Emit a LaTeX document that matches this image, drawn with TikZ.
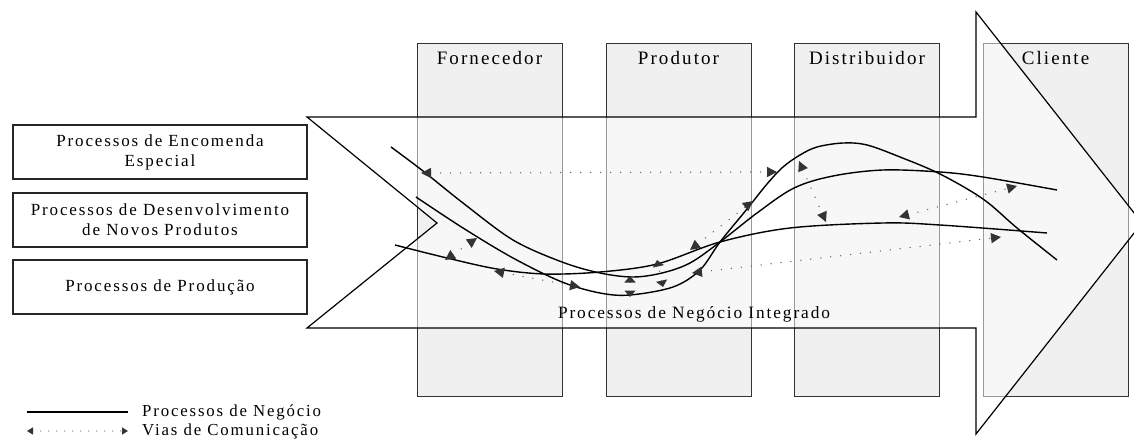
\documentclass[tikz,border=0pt]{standalone}
\usepackage{fontspec}
\setmainfont{Liberation Serif}
\newfontfamily\spc[LetterSpace=11]{Liberation Serif}
\usetikzlibrary{arrows.meta}
\begin{document}
\begin{tikzpicture}[x=1pt,y=-1pt,
  col/.style={draw=black!80,fill=black!6,line width=1.2pt,minimum width=145pt,minimum height=353pt,anchor=north west,inner sep=0pt},
  bigarrow/.style={draw=black,line width=1.2pt,fill=white,fill opacity=0.5},
  procbox/.style={draw=black!85,line width=1.3pt,minimum width=294pt,minimum height=54pt,align=center,inner sep=0pt,font=\spc\fontsize{17}{20}\selectfont},
  collab/.style={font=\spc\fontsize{19}{20}\selectfont,anchor=base,inner sep=0pt},
  txt/.style={font=\spc\fontsize{17.3}{20}\selectfont,inner sep=0pt},
  legtxt/.style={font=\spc\fontsize{16.8}{20}\selectfont,inner sep=0pt,anchor=base west},
  proc/.style={line width=1.4pt,draw=black},
  comm/.style={draw=black!60,line width=1.5pt,line cap=round,dash pattern=on 0pt off 10pt,
    {Triangle[length=10pt,width=10pt,color=black!80]}-{Triangle[length=10pt,width=10pt,color=black!80]}},
  commsmall/.style={comm,{Triangle[length=6.5pt,width=11pt,color=black!80]}-{Triangle[length=6.5pt,width=11pt,color=black!80]}},
  commleg/.style={draw=black!60,line width=1.3pt,line cap=round,dash pattern=on 0pt off 8pt,
    {Triangle[length=6pt,width=7pt,color=black!80]}-{Triangle[length=6pt,width=7pt,color=black!80]}},
]
\useasboundingbox (0,0) rectangle (1134,446);
\fill[white] (0,0) rectangle (1134,446);

% columns
\node[col] (forn) at (417,43) {};
\node[col] (prod) at (606,43) {};
\node[col] (dist) at (794,43) {};
\node[col] (cli)  at (983,43) {};

% big arrow
\draw[bigarrow] (307,117) -- (976,117) -- (976,12) -- (1142,223) -- (976,434)
  -- (976,328) -- (307,328) -- (437,223) -- cycle;

% column labels
\node[collab] (fornlab) at (489.5,65) {Fornecedor};
\node[collab] (prodlab) at (678.5,65) {Produtor};
\node[collab] (distlab) at (867,65) {Distribuidor};
\node[collab] (clilab)  at (1055.5,65) {Cliente};

% left boxes
\node[procbox] (pe) at (160,152) {Processos de Encomenda\\Especial};
\node[procbox] (pd) at (160,220) {Processos de Desenvolvimento\\de Novos Produtos};
\node[procbox] (pp) at (160,287) {Processos de Produção};

% process curves
\draw[proc] plot[smooth,tension=0.55] coordinates {(391,147) (423,171) (463,203) (513,240) (562,262) (600,273) (633,277) (662,273) (690,263) (720,242) (757,213) (794,188) (833,176) (883,170) (940,172) (983,177) (1057,190)};
\draw[proc] plot[smooth,tension=0.55] coordinates {(416,197) (463,228) (513,258) (562,282) (600,293) (630,295) (673,287) (700,270) (720,242) (747,209) (767,184) (783,167) (800,155) (817,147) (843,143) (867,145) (900,157) (940,174) (983,199) (1017,228) (1057,260)};
\draw[proc] plot[smooth,tension=0.55] coordinates {(395,245) (447,258) (497,269) (545,274) (600,272) (657,264) (720,242) (790,228) (883,223) (940,225) (1047,233)};

% communication endpoints
\coordinate (a1) at (421,173); \coordinate (b1) at (777,172);
\coordinate (a2) at (445,260); \coordinate (b2) at (477,238);
\coordinate (a3) at (494,271); \coordinate (b3) at (580,287);
\coordinate (a4) at (630,276); \coordinate (b4) at (630,297);
\coordinate (a5) at (663,287); \coordinate (b5) at (657,260);
\coordinate (a6) at (692,273); \coordinate (b6) at (1001,237);
\coordinate (a7) at (690,250); \coordinate (b7) at (753,201);
\coordinate (a8) at (799,161); \coordinate (b8) at (826,222);
\coordinate (a9) at (899,217); \coordinate (b9) at (1017,186);

\draw[comm] (a1) -- (b1);
\draw[comm] (a2) -- (b2);
\draw[comm] (a3) -- (b3);
\draw[commsmall] (a4) -- (b4);
\draw[commsmall] (a5) -- (b5);
\draw[comm] (a6) -- (b6);
\draw[comm] (a7) -- (b7);
\draw[comm] (a8) -- (b8);
\draw[comm] (a9) -- (b9);

% integrated label
\node[txt,anchor=base] (integ) at (694,318) {Processos de Negócio Integrado};

% legend
\coordinate (l1a) at (27,412); \coordinate (l1b) at (128,412);
\coordinate (l2a) at (27,431); \coordinate (l2b) at (128,431);
\draw[proc,line width=1.2pt] (l1a) -- (l1b);
\draw[commleg] (l2a) -- (l2b);
\node[legtxt] (leg1) at (142,416) {Processos de Negócio};
\node[legtxt] (leg2) at (142,435) {Vias de Comunicação};
\end{tikzpicture}
\end{document}
